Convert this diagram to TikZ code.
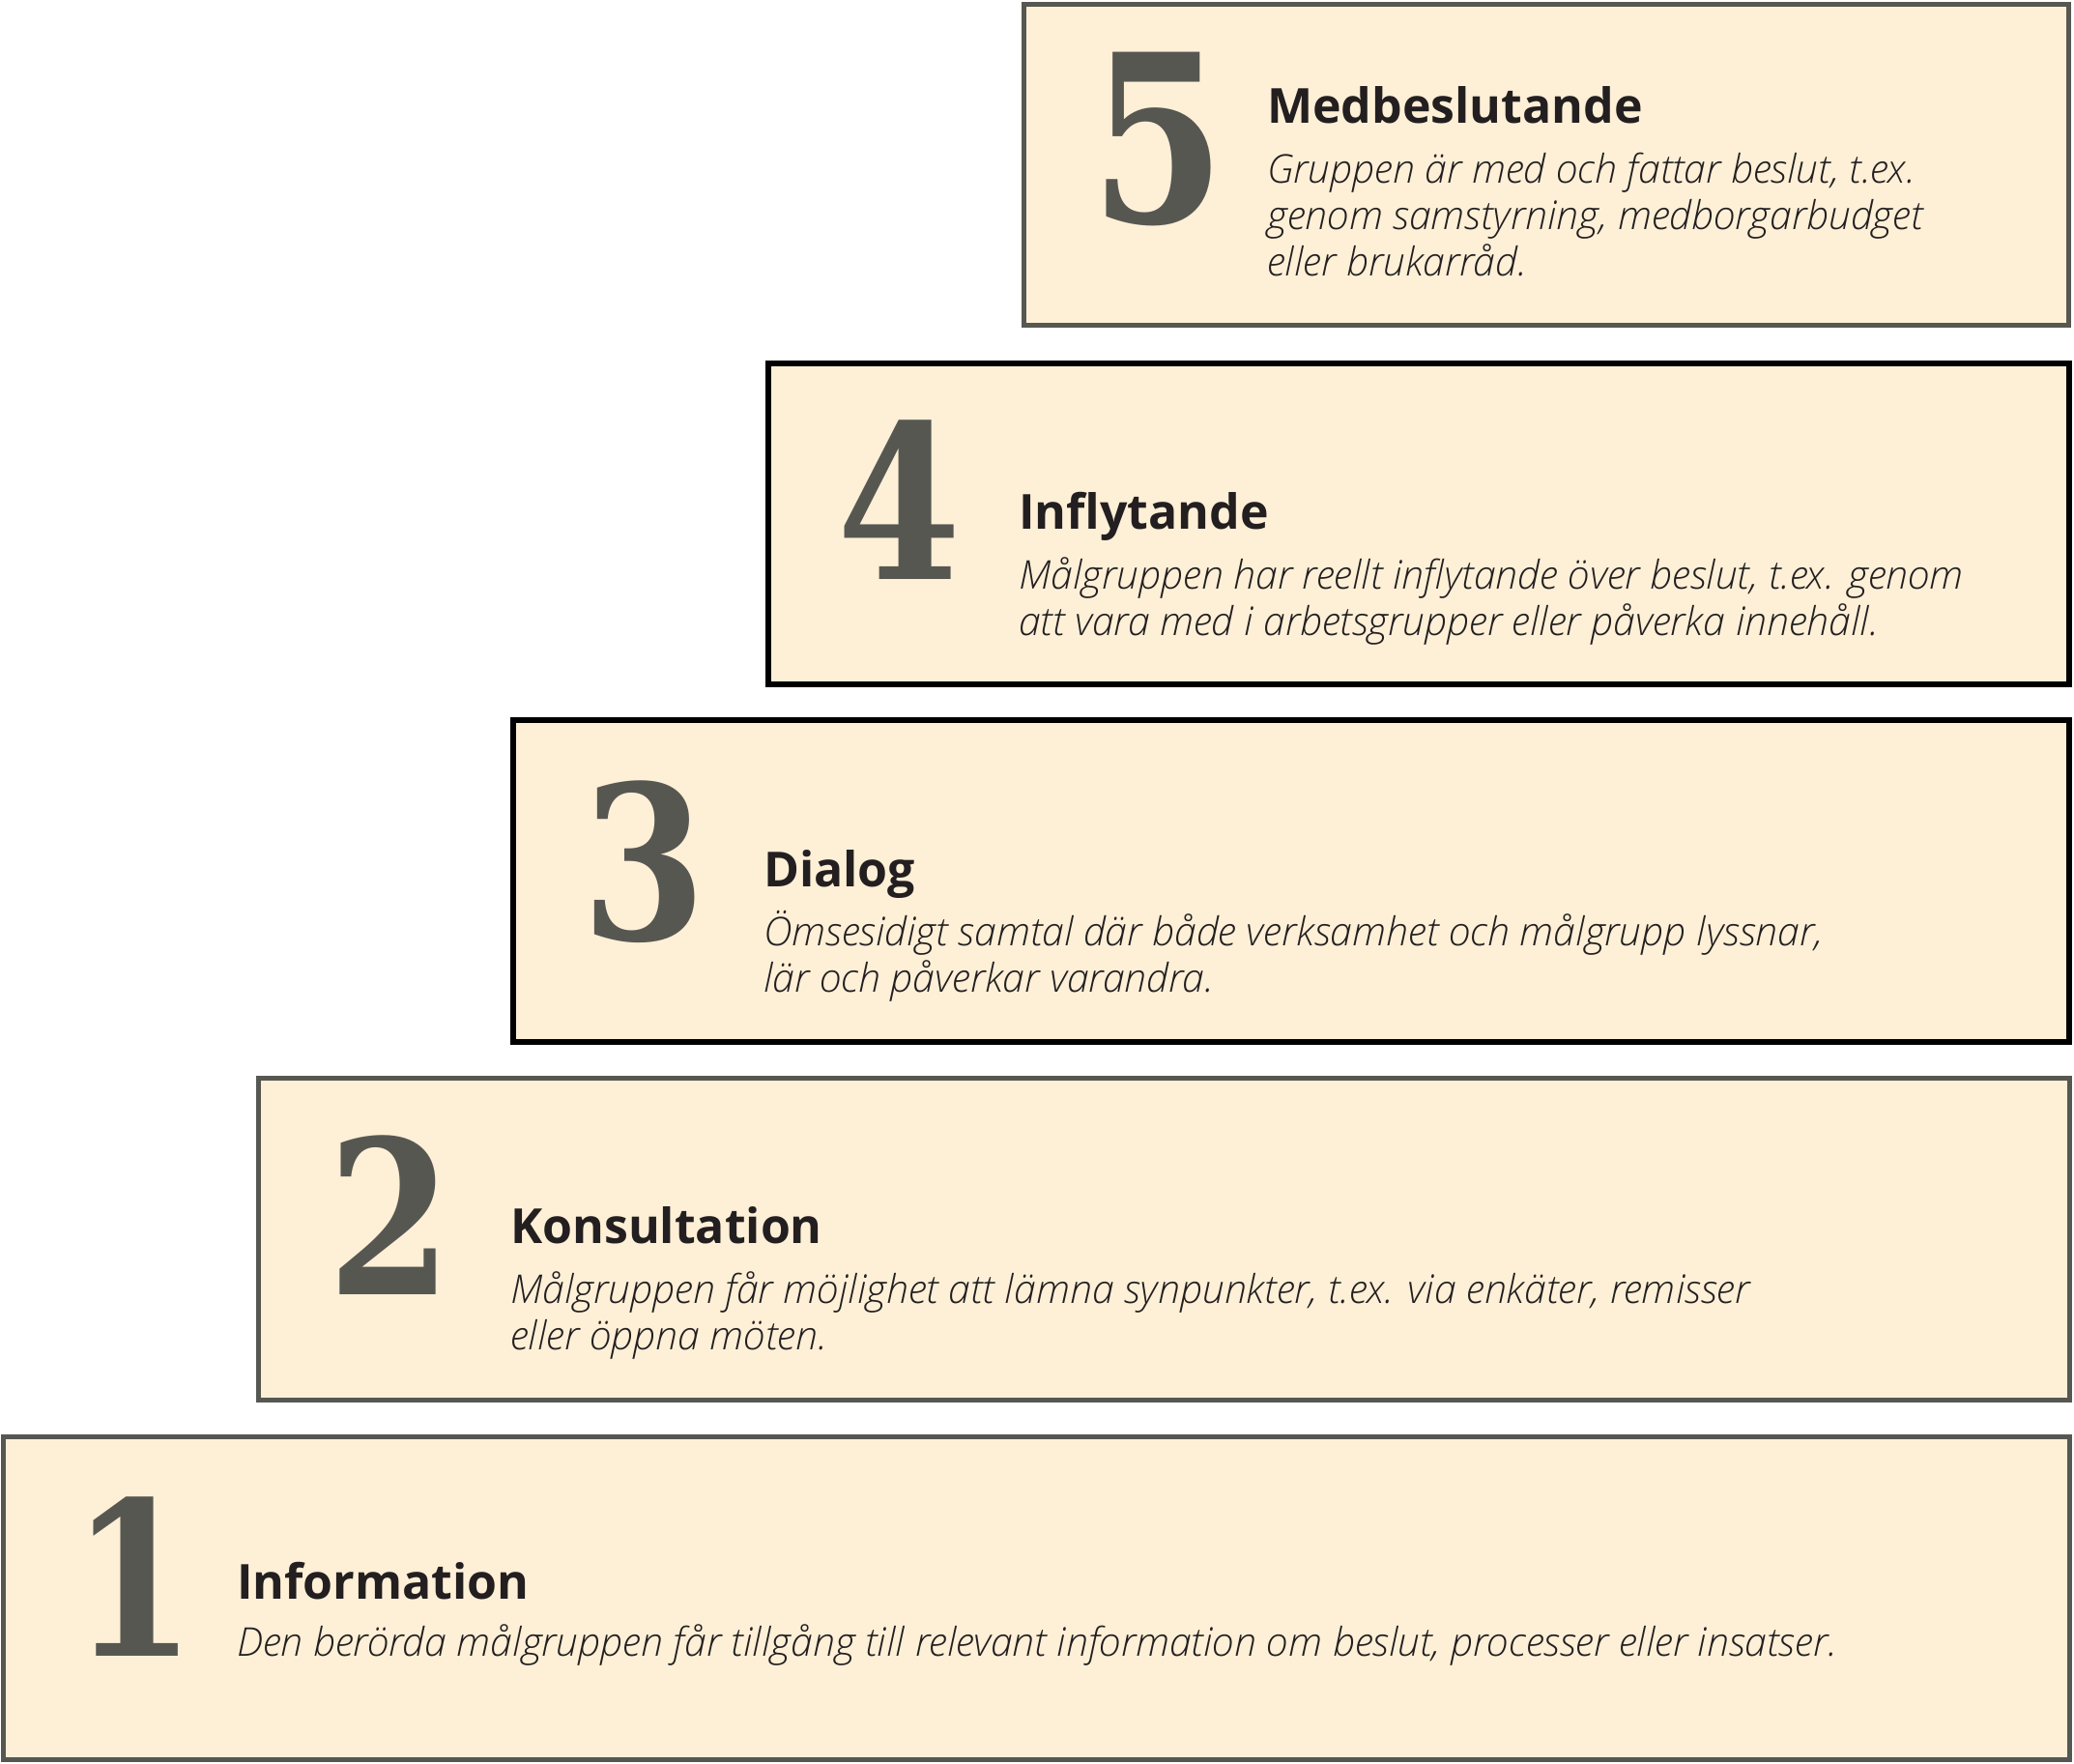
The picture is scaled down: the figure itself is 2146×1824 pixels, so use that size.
\documentclass[tikz,border=0pt]{standalone}
\usepackage{fontspec}
\setmainfont{Open Sans}
\newfontfamily\titlefont{Open Sans}
\IfFontExistsTF{Open Sans Light Italic}
  {\newfontfamily\descfont{Open Sans Light Italic}}
  {\newfontfamily\descfont{Open Sans}[UprightFont={* Italic}]}
\newfontfamily\digitfont{DejaVu Serif}[FakeStretch=0.83]
\definecolor{cream}{HTML}{FEF0D7}
\definecolor{edgegray}{HTML}{575752}
\definecolor{digitgray}{HTML}{575752}
\definecolor{inkdark}{HTML}{231F20}
\tikzset{
  stepbox/.style={fill=cream, draw=edgegray, line width=5pt, anchor=north west, inner sep=0pt, outer sep=0pt},
  stepboxk/.style={fill=cream, draw=black, line width=6.5pt, anchor=north west, inner sep=0pt, outer sep=0pt},
  bignum/.style={anchor=base, inner sep=0pt, text=digitgray, font=\digitfont\bfseries\fontsize{222}{222}\selectfont},
  steptitle/.style={anchor=base west, inner sep=0pt, text=inkdark, font=\titlefont\bfseries\fontsize{50}{60}\selectfont},
  stepdesc/.style={anchor=base west, inner sep=0pt, text=inkdark, align=left, font=\descfont\fontsize{41}{48}\selectfont},
}
\begin{document}
\begin{tikzpicture}[x=1pt, y=-1pt]
\useasboundingbox (0,0) rectangle (2146,1824);
% boxes
\node[stepbox, minimum width=1081pt, minimum height=332pt] (b5) at (1059,4) {};
\node[stepboxk, minimum width=1346pt, minimum height=332pt] (b4) at (795,376) {};
\node[stepboxk, minimum width=1610pt, minimum height=333pt] (b3) at (531,745) {};
\node[stepbox, minimum width=1874pt, minimum height=333pt] (b2) at (267,1115) {};
\node[stepbox, minimum width=2138pt, minimum height=334pt] (b1) at (3,1486) {};
% level 5
\node[bignum, font=\digitfont\bfseries\fontsize{242}{242}\selectfont] (n5) at (1198,230) {5};
\node[steptitle] (t5) at (1311,127) {Medbeslutande};
\node[stepdesc] (d5) at (1311,285) {Gruppen är med och fattar beslut, t.ex.\\genom samstyrning, medborgarbudget\\eller brukarråd.};
% level 4
\node[bignum] (n4) at (931,599) {4};
\node[steptitle] (t4) at (1054,547) {Inflytande};
\node[stepdesc] (d4) at (1054,657) {Målgruppen har reellt inflytande över beslut, t.ex. genom\\att vara med i arbetsgrupper eller påverka innehåll.};
% level 3
\node[bignum] (n3) at (667,972) {3};
\node[steptitle] (t3) at (790,917) {Dialog};
\node[stepdesc] (d3) at (790,1026) {Ömsesidigt samtal där både verksamhet och målgrupp lyssnar,\\lär och påverkar varandra.};
% level 2
\node[bignum] (n2) at (404,1339) {2};
\node[steptitle] (t2) at (528,1286) {Konsultation};
\node[stepdesc] (d2) at (528,1396) {Målgruppen får möjlighet att lämna synpunkter, t.ex. via enkäter, remisser\\eller öppna möten.};
% level 1
\node[bignum] (n1) at (139,1713) {1};
\node[steptitle] (t1) at (245,1654) {Information};
\node[stepdesc] (d1) at (245,1713) {Den berörda målgruppen får tillgång till relevant information om beslut, processer eller insatser.};
\end{tikzpicture}
\end{document}
